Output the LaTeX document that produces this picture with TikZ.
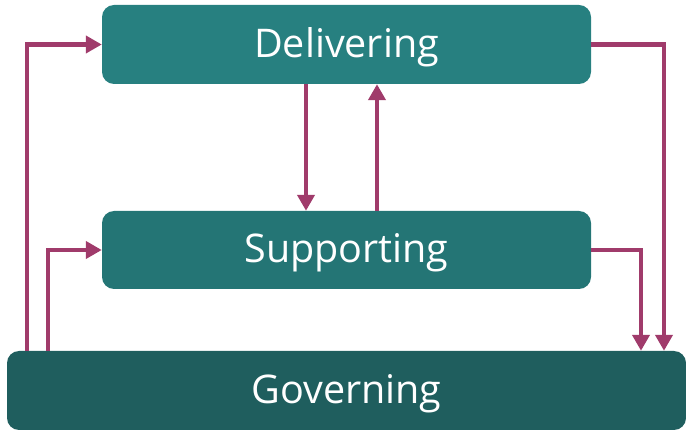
\documentclass[tikz,border=0pt]{standalone}
\usepackage{fontspec}
\setmainfont{Open Sans}
\usetikzlibrary{arrows.meta}
\definecolor{delc}{HTML}{278080}
\definecolor{supc}{HTML}{247575}
\definecolor{govc}{HTML}{1F5E5E}
\definecolor{arrc}{HTML}{A03B6B}
\begin{document}
\begin{tikzpicture}[x=1pt,y=-1pt,
  box/.style={rounded corners=12pt, inner sep=0pt, text=white,
    text height=25.2pt, text depth=0pt,
    font=\fontsize{39.5}{44}\selectfont},
  conn/.style={draw=arrc, line width=4.3pt, -{Triangle[length=16pt,width=17pt]}}]
\useasboundingbox (0,0) rectangle (686,430);
\node[box, fill=delc, minimum width=489pt, minimum height=79pt] (del) at (346.5,44.5) {Delivering};
\node[box, fill=supc, minimum width=489pt, minimum height=78pt] (sup) at (346.5,250) {Supporting};
\node[box, fill=govc, minimum width=679pt, minimum height=79pt] (gov) at (346.5,390.5) {Governing};
\draw[conn] (gov.north -| 27,0) |- (del.west);
\draw[conn] (gov.north -| 48,0) |- (sup.west);
\draw[conn] (del.south -| 306,0) -- (sup.north -| 306,0);
\draw[conn] (sup.north -| 377,0) -- (del.south -| 377,0);
\draw[conn] (del.east) -| (gov.north -| 664,0);
\draw[conn] (sup.east) -| (gov.north -| 641,0);
\end{tikzpicture}
\end{document}
